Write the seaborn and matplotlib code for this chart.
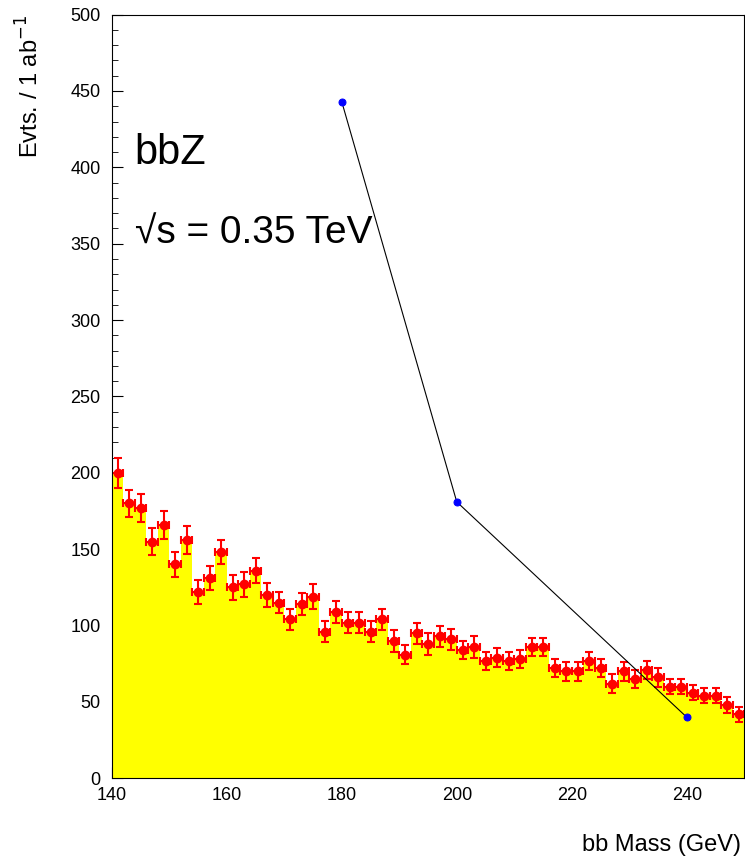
import numpy as np
import seaborn as sns
import matplotlib.pyplot as plt
from matplotlib.ticker import MultipleLocator

mass = list(range(141, 250, 2))
evts = [200, 180, 177, 155, 166, 140, 156, 122, 131, 148, 125, 127, 136, 120, 115,
        104, 114, 119, 96, 109, 102, 102, 96, 104, 90, 81, 95, 88, 93, 91, 84, 86,
        77, 79, 77, 78, 86, 86, 72, 70, 70, 77, 72, 62, 70, 65, 71, 66, 60, 60, 56,
        54, 54, 48, 42]
errs = [10, 9, 9, 9, 9, 8, 9, 8, 8, 8, 8, 8, 8, 8, 7, 7, 7, 8, 7, 7, 7, 7, 7, 7,
        7, 6, 7, 7, 7, 7, 6, 7, 6, 6, 6, 6, 6, 6, 6, 6, 6, 6, 6, 6, 6, 6, 6, 6, 5,
        5, 5, 5, 5, 5, 5]
sig_mass = [180, 200, 240]
sig_evts = [443, 181, 40]

sns.set_style("ticks")
plt.rcParams['font.family'] = ['Liberation Sans', 'DejaVu Sans']
plt.rcParams['text.color'] = 'black'
plt.rcParams['xtick.color'] = 'black'
plt.rcParams['ytick.color'] = 'black'
fig = plt.figure(figsize=(7.45, 8.6), dpi=100)
ax = fig.add_axes([0.150, 0.095, 0.849, 0.888])

edges = np.arange(140, 252, 2)
ax.stairs(evts, edges, fill=True, color="#ffff00", linewidth=0)
ax.errorbar(mass, evts, yerr=errs, xerr=1, fmt="o", color="red", ms=6,
            elinewidth=1.5, capsize=3, capthick=1.5)
sns.lineplot(x=sig_mass, y=sig_evts, ax=ax, color="black", linewidth=0.8,
             marker="o", markersize=5, markerfacecolor="blue", markeredgecolor="blue")

ax.set_xlim(140, 250)
ax.set_ylim(0, 500)
ax.xaxis.set_major_locator(MultipleLocator(20))
ax.xaxis.set_minor_locator(MultipleLocator(5))
ax.yaxis.set_major_locator(MultipleLocator(50))
ax.yaxis.set_minor_locator(MultipleLocator(10))
ax.tick_params(labelsize=13, direction="in", length=8)
ax.tick_params(axis="y", pad=8)
ax.tick_params(axis="x", pad=6)
ax.tick_params(which="minor", direction="in", length=4)
for s in ax.spines.values():
    s.set_linewidth(0.8)
    s.set_color("black")

ax.text(144, 402, "bbZ", fontsize=30)
ax.text(144, 350, "√s = 0.35 TeV", fontsize=28)
fig.text(0.995, 0.005, "bb Mass (GeV)", ha="right", va="bottom", fontsize=17)
fig.text(0.022, 0.983, "Evts. / 1 ab$^{-1}$", ha="left", va="top",
         rotation=90, fontsize=17)
fig.savefig("out.png")
